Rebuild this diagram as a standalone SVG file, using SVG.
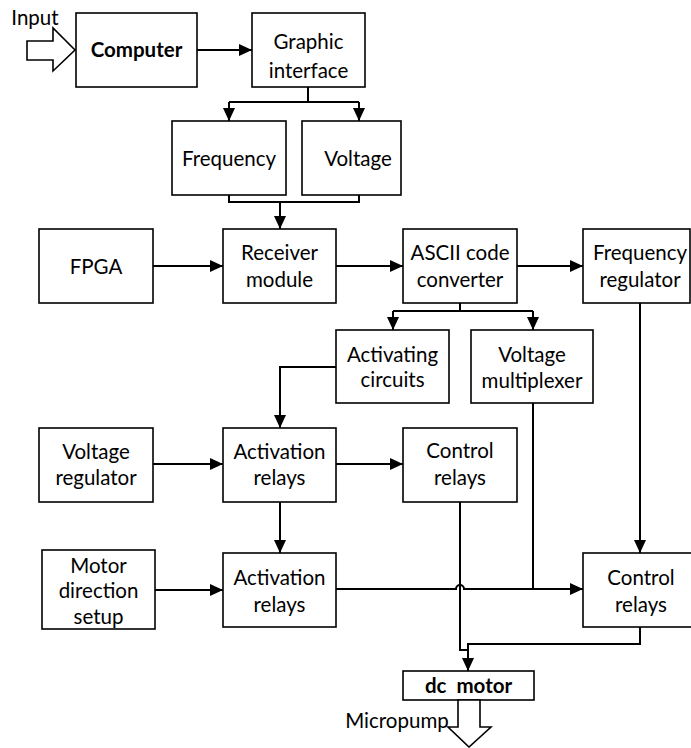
<svg xmlns="http://www.w3.org/2000/svg" width="691" height="748" viewBox="0 0 691 748">
  <defs>
    <marker id="arrow" markerUnits="userSpaceOnUse" markerWidth="14" markerHeight="14" viewBox="0 0 14 12" refX="13" refY="6" orient="auto">
      <path d="M0,0 L13,6 L0,12 Z" fill="#000"/>
    </marker>
  </defs>
  <style>
    .box { fill: #fff; stroke: #000; stroke-width: 1.6; }
    .lbl { font-family: Lato, "Liberation Sans", sans-serif; font-size: 20.5px; fill: #000; text-anchor: middle; }
    .bold { font-weight: bold; }
    .wire { fill: none; stroke: #000; stroke-width: 2; }
    .arr { marker-end: url(#arrow); }
    .hollow { fill: #fff; stroke: #000; stroke-width: 1.6; stroke-linejoin: miter; }
  </style>

  <!-- connectors -->
  <g id="connectors">
    <path class="wire arr" d="M197,50 H252"/>
    <path class="wire" d="M308,87 V102 M229,102 H359"/>
    <path class="wire arr" d="M229,102 V121"/>
    <path class="wire arr" d="M359,102 V121"/>
    <path class="wire" d="M229,195 V202 H359 V195"/>
    <path class="wire arr" d="M280,202 V229"/>
    <path class="wire arr" d="M153,266 H223"/>
    <path class="wire arr" d="M336,266 H403"/>
    <path class="wire arr" d="M517,266 H583"/>
    <path class="wire" d="M460,303 V311 M393,311 H533"/>
    <path class="wire arr" d="M393,311 V330"/>
    <path class="wire arr" d="M533,311 V330"/>
    <path class="wire arr" d="M336,367 H280 V428"/>
    <path class="wire arr" d="M153,464 H223"/>
    <path class="wire arr" d="M336,464 H403"/>
    <path class="wire arr" d="M280,502 V553"/>
    <path class="wire arr" d="M155,590 H223"/>
    <!-- crossing hop over the control-relay feed -->
    <path class="wire arr" d="M336,589 H456 A4,4 0 0 1 464,589 H583"/>
    <path class="wire" d="M533,403 V589"/>
    <path class="wire arr" d="M640,303 V553"/>
    <path class="wire" d="M460,502 V650 H468"/>
    <path class="wire arr" d="M640,627 V644 H468 V671"/>
  </g>

  <!-- input arrow -->
  <g id="input">
    <polygon class="hollow" points="27,41 53,41 53,28 75,50 53,71 53,60 27,60"/>
    <text class="lbl" x="35" y="25" font-size="19">Input</text>
  </g>

  <g id="computer">
    <rect class="box" x="76" y="13" width="121" height="74"/>
    <text class="lbl bold" x="136.5" y="57" font-size="21.5">Computer</text>
  </g>

  <g id="graphic-interface">
    <rect class="box" x="252" y="13" width="113" height="74"/>
    <text class="lbl" x="308.5" y="49">Graphic</text>
    <text class="lbl" x="308.5" y="78">interface</text>
  </g>

  <g id="frequency">
    <rect class="box" x="172" y="121" width="114" height="74"/>
    <text class="lbl" x="229" y="166">Frequency</text>
  </g>

  <g id="voltage">
    <rect class="box" x="302" y="121" width="99" height="74"/>
    <text class="lbl" x="358" y="166">Voltage</text>
  </g>

  <g id="fpga">
    <rect class="box" x="39" y="229" width="114" height="74"/>
    <text class="lbl" x="96" y="274">FPGA</text>
  </g>

  <g id="receiver-module">
    <rect class="box" x="223" y="229" width="113" height="74"/>
    <text class="lbl" x="279.5" y="260">Receiver</text>
    <text class="lbl" x="279.5" y="287">module</text>
  </g>

  <g id="ascii-converter">
    <rect class="box" x="403" y="229" width="114" height="74"/>
    <text class="lbl" x="460" y="260">ASCII code</text>
    <text class="lbl" x="460" y="287">converter</text>
  </g>

  <g id="frequency-regulator">
    <rect class="box" x="583" y="229" width="107" height="74"/>
    <text class="lbl" x="640" y="260">Frequency</text>
    <text class="lbl" x="640" y="287">regulator</text>
  </g>

  <g id="activating-circuits">
    <rect class="box" x="336" y="330" width="113" height="73"/>
    <text class="lbl" x="392.5" y="362">Activating</text>
    <text class="lbl" x="392.5" y="387">circuits</text>
  </g>

  <g id="voltage-multiplexer">
    <rect class="box" x="471" y="330" width="122" height="73"/>
    <text class="lbl" x="532" y="362">Voltage</text>
    <text class="lbl" x="532" y="388">multiplexer</text>
  </g>

  <g id="voltage-regulator">
    <rect class="box" x="39" y="428" width="114" height="74"/>
    <text class="lbl" x="96" y="459">Voltage</text>
    <text class="lbl" x="96" y="485">regulator</text>
  </g>

  <g id="activation-relays-1">
    <rect class="box" x="223" y="428" width="113" height="74"/>
    <text class="lbl" x="279.5" y="459">Activation</text>
    <text class="lbl" x="279.5" y="485">relays</text>
  </g>

  <g id="control-relays-1">
    <rect class="box" x="403" y="428" width="114" height="74"/>
    <text class="lbl" x="460" y="458">Control</text>
    <text class="lbl" x="460" y="485">relays</text>
  </g>

  <g id="motor-direction">
    <rect class="box" x="42" y="550" width="113" height="79"/>
    <text class="lbl" x="98.5" y="573">Motor</text>
    <text class="lbl" x="98.5" y="598">direction</text>
    <text class="lbl" x="98.5" y="624">setup</text>
  </g>

  <g id="activation-relays-2">
    <rect class="box" x="223" y="553" width="113" height="74"/>
    <text class="lbl" x="279.5" y="585">Activation</text>
    <text class="lbl" x="279.5" y="612">relays</text>
  </g>

  <g id="control-relays-2">
    <rect class="box" x="583" y="553" width="116" height="74"/>
    <text class="lbl" x="641" y="585">Control</text>
    <text class="lbl" x="641" y="612">relays</text>
  </g>

  <g id="dc-motor">
    <rect class="box" x="403" y="671" width="131" height="29"/>
    <text class="lbl bold" x="468.5" y="693" font-size="18" xml:space="preserve">dc  motor</text>
  </g>

  <!-- output arrow -->
  <g id="micropump">
    <polygon class="hollow" points="458,700 458,727 448,727 469,747 491,727 480,727 480,700"/>
    <text class="lbl" x="397" y="728" font-size="21.5">Micropump</text>
  </g>
</svg>
